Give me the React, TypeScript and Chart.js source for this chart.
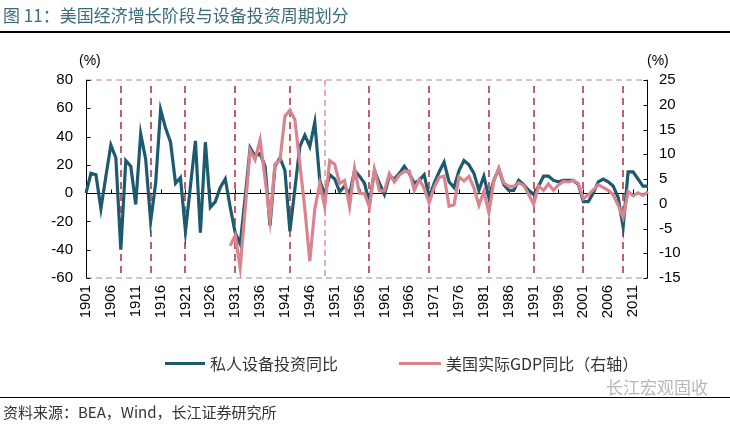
import React, { useEffect, useRef } from 'react';
import { Chart, registerables } from 'chart.js';

Chart.register(...registerables);

const firstYear = 1901;
const lastYear = 2014;
const years: string[] = [];
for (let y = firstYear; y <= lastYear; y++) years.push(String(y));

// 私人设备投资同比 (%), left axis, 1901-2014
const equipmentInvestment: number[] = [
  0, 14, 13, -11, 12, 34, 25, -40, 23, 19,
  -8, 42, 24, -20, 7, 59, 46, 36, 7, 11,
  -27, 5, 37, -28, 36, -10, -6, 4, 10, -10,
  -28, -36, -3, 32, 26, 28, 19, -23, 19, 25,
  16, -27, 3, 33, 41, 33, 50, 9, -1, 13,
  10, 1, 5, -1, 16, 12, 7, -7, 16, 7,
  -1, 12, 10, 14, 19, 14, 7, 9, 13, -3,
  7, 15, 22, 8, 4, 16, 23, 20, 14, 2,
  12, -3, 9, 17, 6, 2, 2, 9, 6, 2,
  -1, 5, 12, 12, 9, 8, 9, 9, 9, 6,
  -6, -6, 0, 8, 10, 8, 5, -3, -24, 15,
  15, 10, 5, 5,
];

// 美国实际GDP同比 (%), right axis, 1901-2014 (starts 1930)
const realGdp: (number | null)[] = [
  null, null, null, null, null, null, null, null, null, null,
  null, null, null, null, null, null, null, null, null, null,
  null, null, null, null, null, null, null, null, null, -8.5,
  -6.4, -12.9, -1.2, 10.8, 8.9, 12.9, 5.1, -3.3, 8.0, 8.8,
  17.7, 18.9, 17.0, 8.0, -1.0, -11.6, -1.1, 4.1, -0.6, 8.7,
  8.0, 4.1, 4.7, -0.6, 7.1, 2.1, 2.1, -0.7, 6.9, 2.6,
  2.6, 6.1, 4.4, 5.8, 6.5, 6.6, 2.7, 4.9, 3.1, 0.2,
  3.3, 5.3, 5.6, -0.5, -0.2, 5.4, 4.6, 5.5, 3.2, -0.3,
  2.5, -1.8, 4.6, 7.2, 4.2, 3.5, 3.5, 4.2, 3.7, 1.9,
  -0.1, 3.6, 2.7, 4.0, 2.7, 3.8, 4.5, 4.4, 4.7, 4.1,
  1.0, 1.8, 2.8, 3.8, 3.3, 2.7, 1.8, -0.3, -2.8, 2.5,
  1.6, 2.2, 1.7, 2.4,
];

const recessionYears: string[] = ['1908', '1914', '1921', '1931', '1942', '1958', '1970', '1982', '1991', '2001', '2009'];
const stageDividerYear = '1949';
const xLabelStep = 5;

const leftMin = -60, leftMax = 80, leftStep = 20;
const rightMin = -15, rightMax = 25, rightStep = 5;

const seriesNames = ['私人设备投资同比', '美国实际GDP同比（右轴）'];
const TEAL = '#1E5A6E';
const PINK = '#D9858F';

const overlayPlugin = {
  id: 'overlay',
  beforeDatasetsDraw(chart: any) {
    const { ctx, chartArea: a, scales } = chart;
    const xs = scales.x, yl = scales.y, yr = scales.y1;
    const seg = (x1: number, y1: number, x2: number, y2: number) => {
      ctx.beginPath(); ctx.moveTo(x1, y1); ctx.lineTo(x2, y2); ctx.stroke();
    };
    ctx.save();
    ctx.setLineDash([6, 4]);
    ctx.strokeStyle = '#CDAEB5';
    ctx.lineWidth = 1.5;
    seg(a.left, a.top, a.right, a.top);
    seg(a.left, a.bottom, a.right, a.bottom);
    const dx = Math.round(xs.getPixelForValue(years.indexOf(stageDividerYear)));
    ctx.strokeStyle = '#E48E9C';
    seg(dx, a.top, dx, a.bottom);
    ctx.setLineDash([7, 5]);
    ctx.strokeStyle = '#B23A4A';
    ctx.lineWidth = 1.6;
    recessionYears.forEach((yr0) => {
      const px = Math.round(xs.getPixelForValue(years.indexOf(yr0)));
      seg(px, a.top + 6, px, a.bottom - 5);
    });
    ctx.setLineDash([]);
    ctx.strokeStyle = '#000';
    ctx.lineWidth = 1;
    const L = Math.round(a.left) + 0.5, R = Math.round(a.right) - 0.5;
    seg(L, a.top, L, a.bottom);
    seg(R, a.top, R, a.bottom);
    yl.ticks.forEach((t: any) => {
      const py = Math.round(yl.getPixelForValue(t.value)) + 0.5;
      seg(L, py, L + 4, py);
    });
    yr.ticks.forEach((t: any) => {
      const py = Math.round(yr.getPixelForValue(t.value)) + 0.5;
      seg(R - 4, py, R, py);
    });
    const py0 = Math.round(yl.getPixelForValue(0)) + 0.5;
    seg(a.left, py0, a.right, py0);
    years.forEach((_, i) => {
      if (i % xLabelStep === 0) {
        const px = Math.round(xs.getPixelForValue(i)) + 0.5;
        seg(px, py0 - 4, px, py0);
      }
    });
    ctx.restore();
  },
};

export default function App() {
  const canvasRef = useRef<HTMLCanvasElement | null>(null);

  useEffect(() => {
    document.body.style.margin = '0';
    const canvas = canvasRef.current;
    if (!canvas) return;
    const tickFont = { family: '"Liberation Sans", Arial, sans-serif', size: 15 };
    const chart = new Chart(canvas, {
      type: 'line',
      data: {
        labels: years,
        datasets: [
          {
            label: seriesNames[1],
            data: realGdp,
            yAxisID: 'y1',
            borderColor: PINK,
            borderWidth: 3.2,
            pointRadius: 0,
            tension: 0,
            spanGaps: false,
            order: 0,
          },
          {
            label: seriesNames[0],
            data: equipmentInvestment,
            yAxisID: 'y',
            borderColor: TEAL,
            borderWidth: 3.2,
            pointRadius: 0,
            tension: 0,
            order: 1,
          },
        ],
      },
      options: {
        responsive: false,
        animation: false,
        devicePixelRatio: 1,
        layout: { padding: { top: 80, left: 0, right: 0, bottom: 0 } },
        plugins: { legend: { display: false }, tooltip: { enabled: false } },
        scales: {
          x: {
            type: 'category',
            grid: { display: false, drawTicks: false },
            border: { display: false },
            afterFit: (s: any) => { s.height = 148; },
            ticks: {
              autoSkip: false,
              maxRotation: 90,
              minRotation: 90,
              padding: 7,
              color: '#000',
              font: { ...tickFont, size: 15 },
              callback: function (this: any, v: any, i: number) {
                return i % xLabelStep === 0 ? years[i] : '';
              },
            },
          },
          y: {
            position: 'left',
            min: leftMin,
            max: leftMax,
            grid: { display: false, drawTicks: false },
            border: { display: false },
            afterFit: (s: any) => { s.width = 86; },
            ticks: { stepSize: leftStep, padding: 13, color: '#000', font: tickFont },
          },
          y1: {
            position: 'right',
            min: rightMin,
            max: rightMax,
            grid: { display: false, drawTicks: false },
            border: { display: false },
            afterFit: (s: any) => { s.width = 82; },
            ticks: { stepSize: rightStep, padding: 11, color: '#000', font: tickFont },
          },
        },
      },
      plugins: [overlayPlugin],
    } as any);
    return () => chart.destroy();
  }, []);

  const cjk = '"Noto Sans CJK SC", "Noto Sans", sans-serif';
  const abs = (o: React.CSSProperties): React.CSSProperties => ({ position: 'absolute', whiteSpace: 'nowrap', ...o });

  return (
    <div style={{ position: 'relative', width: 730, height: 426, background: '#fff', overflow: 'hidden' }}>
      <canvas ref={canvasRef} width={730} height={426} style={{ position: 'absolute', left: 0, top: 0 }} />
      <div style={abs({ left: 3, top: 2, fontFamily: cjk, fontSize: 17, color: '#3A6B7C' })}>图 11：美国经济增长阶段与设备投资周期划分</div>
      <div style={abs({ left: 0, top: 31, width: 730, height: 2, background: '#000' })} />
      <div style={abs({ left: 79, top: 52, fontFamily: '"Liberation Sans", Arial', fontSize: 14, color: '#000' })}>(%)</div>
      <div style={abs({ left: 647, top: 52, fontFamily: '"Liberation Sans", Arial', fontSize: 14, color: '#000' })}>(%)</div>
      <div style={abs({ left: 165, top: 362, width: 40, height: 3, background: TEAL })} />
      <div style={abs({ left: 210, top: 351, fontFamily: cjk, fontSize: 16, color: '#333' })}>{seriesNames[0]}</div>
      <div style={abs({ left: 399, top: 362, width: 42, height: 3, background: PINK })} />
      <div style={abs({ left: 446, top: 351, fontFamily: cjk, fontSize: 16, color: '#333' })}>{seriesNames[1]}</div>
      <div style={abs({ left: 0, top: 397, width: 730, height: 1, background: '#000' })} />
      <div style={abs({ left: 3, top: 401, fontFamily: cjk, fontSize: 15, color: '#333' })}>资料来源：BEA，Wind，长江证券研究所</div>
      <div style={abs({ left: 606, top: 374, fontFamily: cjk, fontSize: 17, color: '#B8B8B8' })}>长江宏观固收</div>
    </div>
  );
}
